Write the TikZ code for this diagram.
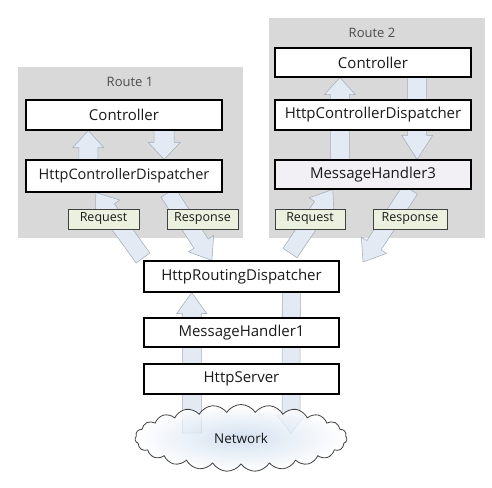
\documentclass[tikz,border=0pt]{standalone}
\usepackage{fontspec}
\setmainfont{Open Sans}
\usetikzlibrary{calc,shapes.symbols}
\definecolor{panelgray}{HTML}{D9D9D9}
\definecolor{arrfill}{HTML}{E3EAF3}
\definecolor{arrline}{HTML}{A3AEB9}
\definecolor{lblfill}{HTML}{EBF1DE}
\definecolor{mhfill}{HTML}{F2EFF5}
\definecolor{cloudblue}{HTML}{C9DAEC}
\definecolor{txt}{HTML}{1A1A1A}
\pgfdeclarelayer{panels}
\pgfdeclarelayer{arrows}
\pgfsetlayers{panels,arrows,main}
\tikzset{
  panel/.style={fill=panelgray, draw=none, inner sep=0pt},
  box/.style={draw=black, line width=1.1pt, fill=white, minimum width=196pt,
    minimum height=30pt, inner sep=0pt, text=txt, font=\fontsize{15}{18}\selectfont},
  lbl/.style={draw=black!75, line width=0.6pt, fill=lblfill, inner sep=0pt,
    minimum height=20pt, text=txt, font=\fontsize{12.5}{14}\selectfont},
  routelbl/.style={text=black!70, font=\fontsize{13}{16}\selectfont},
  barrow/.style={fill=arrfill, draw=arrline, line width=0.55pt, line join=miter},
}
% tail, tip, half shaft width, half head width, head length
\newcommand\blockarrow[5]{%
  \coordinate (ba-hb) at ($(#2)!#5!(#1)$);
  \filldraw[barrow] ($(#1)!#3!90:(#2)$) -- ($(ba-hb)!#3!90:(#2)$)
    -- ($(ba-hb)!#4!90:(#2)$) -- (#2) -- ($(ba-hb)!#4!-90:(#2)$)
    -- ($(ba-hb)!#3!-90:(#2)$) -- ($(#1)!#3!-90:(#2)$) -- cycle;
}
\begin{document}
\begin{tikzpicture}[x=1pt,y=-1pt]
\useasboundingbox (0,0) rectangle (492,487);

% panels
\begin{pgfonlayer}{panels}
\node[panel, minimum width=225pt, minimum height=171pt] (p1) at (130.5,152.5) {};
\node[panel, minimum width=216pt, minimum height=220pt] (p2) at (377,128) {};
\end{pgfonlayer}
\node[routelbl] (r1) at (130,82) {Route 1};
\node[routelbl] (r2) at (372,33) {Route 2};

% Route 1
\node[box] (c1) at (124,115) {Controller};
\node[box, minimum height=32pt, font=\fontsize{14.5}{17}\selectfont] (d1) at (124,176) {HttpControllerDispatcher};
\node[lbl, minimum width=71pt] (req1) at (103.5,219) {Request};
\node[lbl, minimum width=71pt] (resp1) at (202.5,219) {Response};

% Route 2
\node[box, minimum height=29pt] (c2) at (373,62.5) {Controller};
\node[box] (d2) at (373,115) {HttpControllerDispatcher};
\node[box, minimum height=29pt, fill=mhfill] (m3) at (373,174.5) {MessageHandler3};
\node[lbl, minimum width=70pt] (req2) at (310,219) {Request};
\node[lbl, minimum width=74pt] (resp2) at (410,219) {Response};

% main stack
\node[box, minimum width=195pt, minimum height=31pt] (hrd) at (241.5,276.5) {HttpRoutingDispatcher};
\node[box, minimum width=195pt, minimum height=29pt] (mh1) at (241.5,332.5) {MessageHandler1};
\node[box, minimum width=195pt] (hs) at (241.5,379) {HttpServer};

% anchor points for the block arrows
\coordinate (c1u) at ($(c1.south west)!0.319!(c1.south east)$);
\coordinate (d1u) at ($(d1.north west)!0.319!(d1.north east)$);
\coordinate (c1d) at ($(c1.south west)!0.704!(c1.south east)$);
\coordinate (d1d) at ($(d1.north west)!0.704!(d1.north east)$);
\coordinate (d1req) at ($(d1.south west)!0.357!(d1.south east)$);
\coordinate (d1resp) at ($(d1.south west)!0.724!(d1.south east)$);
\coordinate (req1tail) at (143,258);
\coordinate (hrdresp1) at ($(hrd.north west)!0.349!(hrd.north east)$);

\coordinate (c2u) at ($(c2.south west)!0.332!(c2.south east)$);
\coordinate (m3u) at ($(m3.north west)!0.332!(m3.north east)$);
\coordinate (c2d) at ($(c2.south west)!0.724!(c2.south east)$);
\coordinate (m3d) at ($(m3.north west)!0.724!(m3.north east)$);
\coordinate (m3req) at ($(m3.south west)!0.296!(m3.south east)$);
\coordinate (m3resp) at ($(m3.south west)!0.689!(m3.south east)$);
\coordinate (req2tail) at (290,253);
\coordinate (resp2tip) at (363,262);

\coordinate (hrdu) at ($(hrd.south west)!0.246!(hrd.south east)$);
\coordinate (hrdd) at ($(hrd.south west)!0.754!(hrd.south east)$);
\coordinate (netup) at (192,433);
\coordinate (netdown) at (291,433);

\begin{pgfonlayer}{arrows}
\blockarrow{d1u}{c1u}{9.5pt}{15.5pt}{17pt}
\blockarrow{c1d}{d1d}{10pt}{16pt}{17pt}
\blockarrow{req1tail}{d1req}{8.5pt}{15pt}{20pt}
\blockarrow{d1resp}{hrdresp1}{8.5pt}{15pt}{20pt}
\blockarrow{m3u}{c2u}{9.5pt}{15.5pt}{17pt}
\blockarrow{c2d}{m3d}{9.5pt}{15.5pt}{24pt}
\blockarrow{req2tail}{m3req}{8.5pt}{15pt}{20pt}
\blockarrow{m3resp}{resp2tip}{8.5pt}{15pt}{20pt}
\blockarrow{netup}{hrdu}{9.5pt}{15pt}{21pt}
\blockarrow{hrdd}{netdown}{9pt}{14.5pt}{18pt}
\end{pgfonlayer}

% network cloud
\node[cloud, draw=black!75, line width=0.8pt, cloud puffs=23, cloud puff arc=115,
  cloud ignores aspect, minimum width=212pt, minimum height=67pt,
  inner color=cloudblue, outer color=white, shading=radial, fill opacity=0.8,
  text opacity=1, text=txt, font=\fontsize{13.5}{16}\selectfont] (net) at (241,438) {Network};
\end{tikzpicture}
\end{document}
